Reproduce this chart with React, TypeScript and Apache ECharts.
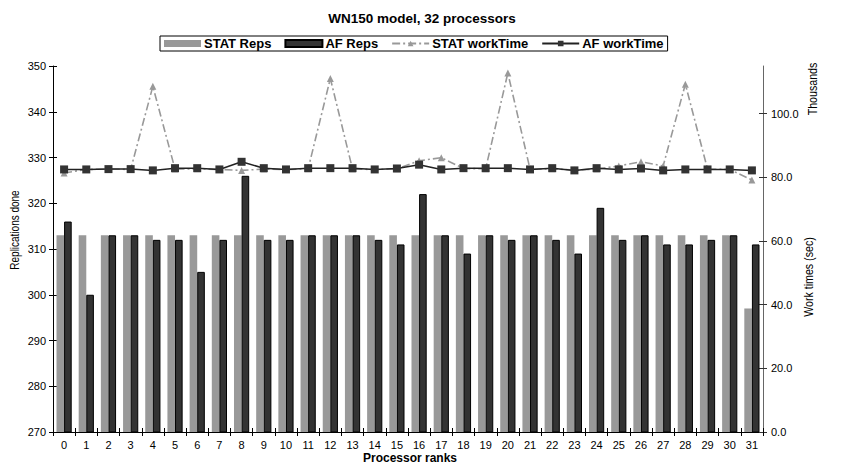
import React, { useEffect, useRef } from "react";
import * as echarts from "echarts";

const categories: string[] = Array.from({ length: 32 }, (_, i) => String(i));

const statReps: number[] = [
  313, 313, 313, 313, 313, 313, 313, 313, 313, 313, 313, 313, 313, 313, 313, 313,
  313, 313, 313, 313, 313, 313, 313, 313, 313, 313, 313, 313, 313, 313, 313, 297,
];

const afReps: number[] = [
  316, 300, 313, 313, 312, 312, 305, 312, 326, 312, 312, 313, 313, 313, 312, 311,
  322, 313, 309, 313, 312, 313, 312, 309, 319, 312, 313, 311, 311, 312, 313, 311,
];

// work times in thousands of seconds
const statWorkTime: number[] = [
  81.4, 82.5, 82.6, 82.5, 108.6, 82.6, 82.7, 82.5, 82.2, 82.6, 82.5, 82.7, 111.1, 82.6, 82.5, 82.7,
  85.2, 86.2, 82.8, 82.7, 112.8, 82.6, 82.7, 82.3, 82.6, 83.6, 84.9, 83.6, 109.3, 82.6, 82.5, 79.2,
];

const afWorkTime: number[] = [
  82.5, 82.5, 82.6, 82.6, 82.2, 82.9, 82.9, 82.5, 84.9, 82.9, 82.5, 82.9, 82.9, 82.9, 82.5, 82.8,
  84.0, 82.5, 82.9, 82.9, 82.9, 82.5, 82.9, 82.2, 82.9, 82.5, 82.8, 82.2, 82.5, 82.5, 82.5, 82.2,
];

const leftTicks = { min: 270, max: 350, interval: 10 };
const rightTickValues: number[] = [0, 20, 40, 60, 80, 100];
const rightMax = 115;

const FONT = "Liberation Sans";

export default function App() {
  const ref = useRef<HTMLDivElement>(null);

  useEffect(() => {
    if (!ref.current) return;
    const chart = echarts.init(ref.current, undefined, { renderer: "svg" });
    const axisColor = "#000";
    const option: any = {
      animation: false,
      backgroundColor: "#fff",
      textStyle: { fontFamily: FONT, color: "#000" },
      title: {
        text: "WN150 model, 32 processors",
        left: "center",
        top: 6,
        textStyle: { fontFamily: FONT, fontSize: 13.5, fontWeight: "bold", color: "#000" },
      },
      legend: {
        top: 36,
        left: 160,
        borderColor: "#000",
        borderWidth: 1,
        padding: [1, 4],
        itemGap: 13,
        itemWidth: 37,
        itemHeight: 7,
        textStyle: { fontFamily: FONT, fontSize: 13, fontWeight: "bold", color: "#000", padding: [0, 0, 0, -2] },
        data: [
          { name: "STAT Reps", icon: "rect" },
          { name: "AF Reps", icon: "rect" },
          { name: "STAT workTime" },
          { name: "AF workTime" },
        ],
      },
      grid: { left: 53, right: 81, top: 66, bottom: 34 },
      xAxis: [
        {
          type: "category",
          data: categories,
          position: "bottom",
          axisLine: { lineStyle: { color: axisColor, width: 1 } },
          axisTick: { show: true, inside: false, length: 4, lineStyle: { color: axisColor } },
          axisLabel: { interval: 0, fontSize: 11, margin: 7, color: "#000", fontFamily: FONT },
          splitLine: { show: false },
        },
        {
          type: "category",
          data: categories,
          position: "bottom",
          axisLine: { show: false },
          axisTick: { show: true, inside: true, length: 4, lineStyle: { color: axisColor } },
          axisLabel: { show: false },
          splitLine: { show: false },
        },
      ],
      yAxis: [
        {
          type: "value",
          position: "left",
          min: leftTicks.min,
          max: leftTicks.max,
          interval: leftTicks.interval,
          axisLine: { show: true, lineStyle: { color: axisColor } },
          axisTick: { show: true, inside: false, length: 4, lineStyle: { color: axisColor } },
          axisLabel: { fontSize: 11, margin: 7, color: "#000", fontFamily: FONT },
          splitLine: { show: false },
        },
        {
          type: "value",
          position: "right",
          min: 0,
          max: rightMax,
          interval: 20,
          axisLine: { show: true, lineStyle: { color: "#666" } },
          axisTick: { show: true, inside: false, length: 4, lineStyle: { color: "#333" }, customValues: rightTickValues },
          axisLabel: {
            fontSize: 11,
            margin: 8,
            color: "#000",
            fontFamily: FONT,
            customValues: rightTickValues,
            formatter: (v: number) => v.toFixed(1),
          },
          splitLine: { show: false },
        },
        {
          type: "value",
          position: "left",
          min: leftTicks.min,
          max: leftTicks.max,
          interval: leftTicks.interval,
          axisLine: { show: false },
          axisTick: { show: true, inside: true, length: 4, lineStyle: { color: axisColor } },
          axisLabel: { show: false },
          splitLine: { show: false },
        },
        {
          type: "value",
          position: "right",
          min: 0,
          max: rightMax,
          interval: 20,
          axisLine: { show: false },
          axisTick: { show: true, inside: true, length: 4, lineStyle: { color: "#333" }, customValues: rightTickValues },
          axisLabel: { show: false },
          splitLine: { show: false },
        },
      ],
      series: [
        {
          name: "STAT Reps",
          type: "bar",
          xAxisIndex: 0,
          yAxisIndex: 0,
          data: statReps,
          barWidth: 7.6,
          barGap: "0%",
          itemStyle: { color: "#999999" },
          z: 2,
        },
        {
          name: "AF Reps",
          type: "bar",
          xAxisIndex: 0,
          yAxisIndex: 0,
          data: afReps,
          barWidth: 7.6,
          barGap: "0%",
          itemStyle: { color: "#333333", borderColor: "#000", borderWidth: 1 },
          z: 2,
        },
        {
          name: "STAT workTime",
          type: "line",
          xAxisIndex: 0,
          yAxisIndex: 1,
          data: statWorkTime,
          symbol: "triangle",
          symbolSize: 7,
          itemStyle: { color: "#999999" },
          lineStyle: { color: "#999999", width: 1.6, type: [8, 3, 2, 3] },
          z: 3,
        },
        {
          name: "AF workTime",
          type: "line",
          xAxisIndex: 0,
          yAxisIndex: 1,
          data: afWorkTime,
          symbol: "rect",
          symbolSize: 8,
          itemStyle: { color: "#333333" },
          lineStyle: { color: "#222222", width: 1.5, type: "solid" },
          z: 4,
        },
      ],
      graphic: [
        {
          type: "text",
          x: 15,
          y: 230,
          rotation: Math.PI / 2,
          scaleX: 0.8,
          style: {
            text: "Replications done",
            fontFamily: FONT,
            fontSize: 12.5,
            fill: "#000",
            align: "center",
            verticalAlign: "middle",
          },
        },
        {
          type: "text",
          x: 808,
          y: 277,
          rotation: Math.PI / 2,
          scaleX: 0.85,
          style: {
            text: "Work times (sec)",
            fontFamily: FONT,
            fontSize: 12.5,
            fill: "#000",
            align: "center",
            verticalAlign: "middle",
          },
        },
        {
          type: "text",
          x: 812,
          y: 89,
          rotation: Math.PI / 2,
          scaleX: 0.85,
          style: {
            text: "Thousands",
            fontFamily: FONT,
            fontSize: 12.5,
            fill: "#000",
            align: "center",
            verticalAlign: "middle",
          },
        },
        {
          type: "text",
          x: 410,
          y: 458,
          style: {
            text: "Processor ranks",
            fontFamily: FONT,
            fontSize: 12,
            fontWeight: "bold",
            fill: "#000",
            align: "center",
            verticalAlign: "middle",
          },
        },
      ],
    };
    chart.setOption(option);
    return () => {
      chart.dispose();
    };
  }, []);

  return (
    <div
      ref={ref}
      style={{ position: "fixed", left: 0, top: 0, width: 844, height: 466 }}
    />
  );
}
